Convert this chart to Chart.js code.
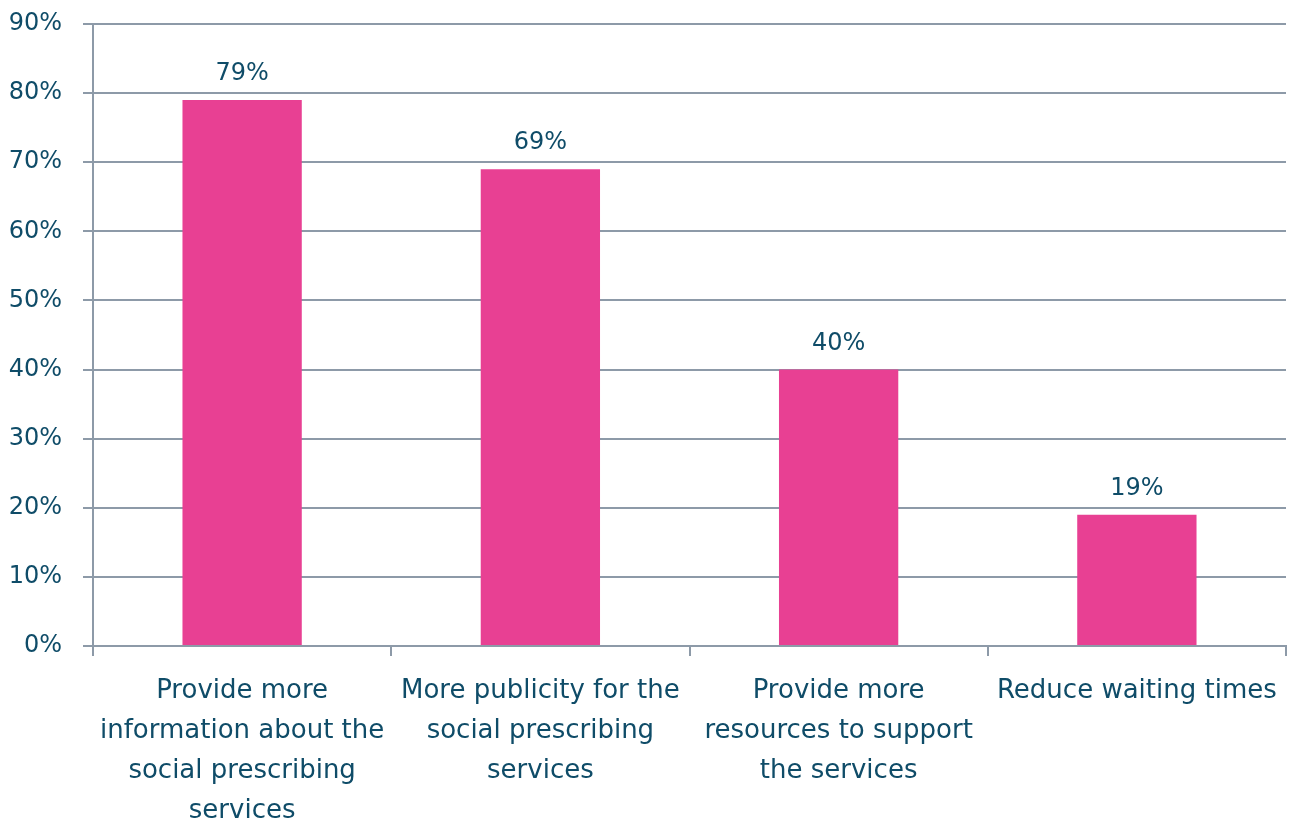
<!DOCTYPE html>
<html>
<head>
<meta charset="utf-8">
<script src="https://cdn.jsdelivr.net/npm/chart.js@4"></script>
<style>
  html, body { margin: 0; padding: 0; background: #ffffff; }
  #wrap { width: 1291px; height: 822px; position: relative; }
</style>
</head>
<body>
<div id="wrap"><canvas id="chart" width="1291" height="822"></canvas></div>
<script>
// Survey responses: suggested improvements
const categories = [
  ['Provide more', 'information about the', 'social prescribing', 'services'],
  ['More publicity for the', 'social prescribing', 'services'],
  ['Provide more', 'resources to support', 'the services'],
  ['Reduce waiting times']
];
const values = [79, 69, 40, 19];
const yTicks = [0, 10, 20, 30, 40, 50, 60, 70, 80, 90];

const TEXT = '#0f4c68';
const GRID = '#8d9aa8';
const BAR = '#e84093';
const FONT = "'DejaVu Sans', 'Open Sans', sans-serif";
const NUM_SIZE = 24;
const CAT_SIZE = 26;

// Percentage labels above each bar
const valueLabels = {
  id: 'valueLabels',
  afterDatasetsDraw(chart) {
    const ctx = chart.ctx;
    const meta = chart.getDatasetMeta(0);
    ctx.save();
    ctx.font = `${NUM_SIZE}px ${FONT}`;
    ctx.fillStyle = TEXT;
    ctx.textAlign = 'center';
    ctx.textBaseline = 'alphabetic';
    meta.data.forEach((bar, i) => {
      ctx.fillText(values[i] + '%', bar.x, bar.y - 20);
    });
    ctx.restore();
  }
};

new Chart(document.getElementById('chart'), {
  type: 'bar',
  data: {
    labels: categories,
    datasets: [{
      data: values,
      backgroundColor: BAR,
      borderWidth: 0,
      barPercentage: 0.8,
      categoryPercentage: 0.5
    }]
  },
  options: {
    responsive: false,
    animation: false,
    layout: { padding: { top: 24, right: 5, left: 0, bottom: 0 } },
    plugins: {
      legend: { display: false },
      tooltip: { enabled: false }
    },
    scales: {
      x: {
        grid: {
          drawOnChartArea: false,
          drawTicks: true,
          tickLength: 10,
          color: GRID,
          lineWidth: 2,
          offset: true
        },
        border: { display: true, color: GRID, width: 2 },
        ticks: {
          color: TEXT,
          font: { family: FONT, size: CAT_SIZE, lineHeight: 40 / CAT_SIZE },
          padding: 15,
          maxRotation: 0,
          minRotation: 0,
          autoSkip: false
        },
        afterFit(scale) {
          scale.height = 176;
          scale.paddingLeft = 0;
          scale.paddingRight = 0;
        }
      },
      y: {
        min: 0,
        max: 90,
        afterBuildTicks(scale) { scale.ticks = yTicks.map(v => ({ value: v })); },
        grid: {
          color: GRID,
          lineWidth: 2,
          drawTicks: true,
          tickLength: 10
        },
        border: { display: true, color: GRID, width: 2 },
        ticks: {
          color: TEXT,
          font: { family: FONT, size: NUM_SIZE },
          padding: 21,
          callback: v => v + '%'
        },
        afterFit(scale) {
          scale.width = 93;
          scale.paddingTop = 0;
          scale.paddingBottom = 0;
        }
      }
    }
  },
  plugins: [valueLabels]
});
</script>
</body>
</html>
